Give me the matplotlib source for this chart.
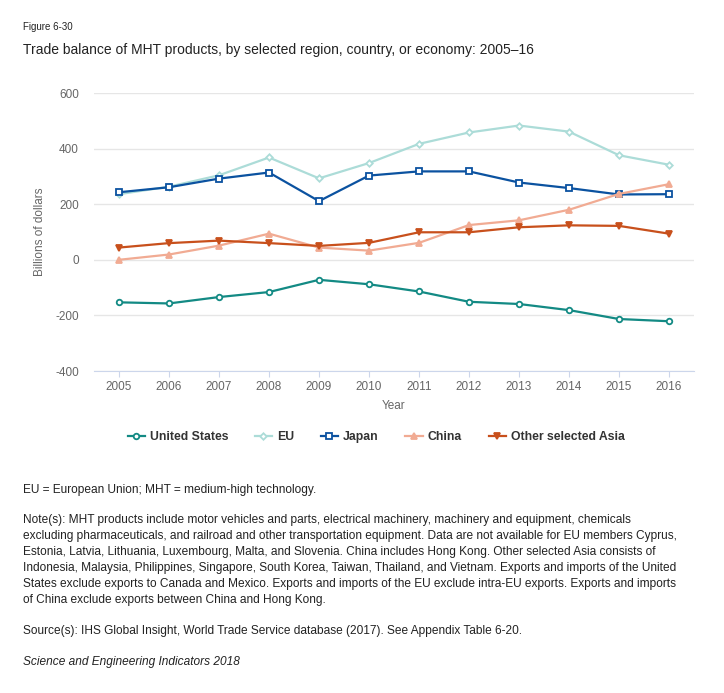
import matplotlib

matplotlib.use("Agg")
import matplotlib.pyplot as plt  # noqa: E402
from matplotlib.lines import Line2D  # noqa: E402

plt.rcParams["font.family"] = ["Liberation Sans", "DejaVu Sans"]

years = list(range(2005, 2017))
united_states = [-153, -157, -134, -116, -72, -88, -114, -151, -159, -181, -213, -221]
eu = [236, 263, 304, 368, 293, 348, 417, 458, 483, 461, 376, 342]
japan = [243, 261, 292, 314, 211, 303, 318, 318, 278, 258, 235, 236]
china = [0, 19, 51, 94, 44, 33, 61, 125, 142, 180, 237, 272]
other_asia = [44, 60, 69, 60, 50, 61, 99, 99, 117, 124, 122, 94]

series = [
    ("United States", united_states, "#138a84", "o", "white", 4.0),
    ("EU", eu, "#acdcd8", "D", "white", 3.3),
    ("Japan", japan, "#0b52a0", "s", "white", 4.2),
    ("China", china, "#f1ab93", "^", "#f1ab93", 4.6),
    ("Other selected Asia", other_asia, "#c8501c", "v", "#c8501c", 4.6),
]
y_ticks = [-400, -200, 0, 200, 400, 600]

W, H = 724, 693
fig = plt.figure(figsize=(W / 100, H / 100), dpi=100)


def px(x, y):
    return x / W, 1 - y / H


ax = fig.add_axes([94 / W, 1 - 371 / H, 600 / W, 278 / H])
for name, vals, color, marker, face, size in series:
    ax.plot(years, vals, color=color, linewidth=1.6, marker=marker, markersize=size,
            markerfacecolor=face, markeredgecolor=color, markeredgewidth=1.3, zorder=3)

ax.set_xlim(2004.5, 2016.5)
ax.set_ylim(-400, 600)
ax.set_yticks(y_ticks)
ax.set_yticklabels([str(v) for v in y_ticks])
ax.set_xticks(years)
ax.grid(axis="y", color="#e6e6e6", linewidth=1)
ax.set_axisbelow(True)
for side in ["top", "right", "left"]:
    ax.spines[side].set_visible(False)
ax.spines["bottom"].set_color("#ccd6eb")
ax.tick_params(axis="y", length=0, pad=10.8, labelsize=8.5, labelcolor="#666666")
ax.tick_params(axis="x", length=4.5, color="#ccd6eb", pad=3, labelsize=8.5, labelcolor="#666666")
ax.set_xlabel("Year", fontsize=8.5, color="#666666")
ax.xaxis.set_label_coords(300 / 600, -29 / 278)
ax.set_ylabel("Billions of dollars", fontsize=8.5, color="#666666")
ax.yaxis.set_label_coords(-48 / 600, 0.5)

handles = [Line2D([0], [0], color=c, linewidth=1.6, marker=m, markersize=s, markerfacecolor=f,
                  markeredgecolor=c, markeredgewidth=1.3) for _, _, c, m, f, s in series]
leg = fig.legend(handles, [s[0] for s in series], loc="center", bbox_to_anchor=px(376, 437),
                 ncol=5, frameon=False, handlelength=1.4, handletextpad=0.4, columnspacing=2.2,
                 prop={"size": 8.8, "weight": "bold"})
for t in leg.get_texts():
    t.set_color("#333333")

fig.text(*px(23, 27), "Figure 6-30", fontsize=7, color="#222222", va="center")
fig.text(*px(23, 50), "Trade balance of MHT products, by selected region, country, or economy: 2005\u201316",
         fontsize=10, color="#222222", va="center")

note_color = "#222222"
note_size = 8.6
fig.text(*px(23, 490), "EU = European Union; MHT = medium-high technology.",
         fontsize=note_size, color=note_color, va="center")
note_lines = [
    "Note(s): MHT products include motor vehicles and parts, electrical machinery, machinery and equipment, chemicals",
    "excluding pharmaceuticals, and railroad and other transportation equipment. Data are not available for EU members Cyprus,",
    "Estonia, Latvia, Lithuania, Luxembourg, Malta, and Slovenia. China includes Hong Kong. Other selected Asia consists of",
    "Indonesia, Malaysia, Philippines, Singapore, South Korea, Taiwan, Thailand, and Vietnam. Exports and imports of the United",
    "States exclude exports to Canada and Mexico. Exports and imports of the EU exclude intra-EU exports. Exports and imports",
    "of China exclude exports between China and Hong Kong.",
]
for i, line in enumerate(note_lines):
    fig.text(*px(23, 520 + 16 * i), line, fontsize=note_size, color=note_color, va="center")
fig.text(*px(23, 631), "Source(s): IHS Global Insight, World Trade Service database (2017). See Appendix Table 6-20.",
         fontsize=note_size, color=note_color, va="center")
fig.text(*px(23, 662), "Science and Engineering Indicators 2018", fontsize=note_size, color=note_color,
         va="center", style="italic")

fig.savefig("out.png", dpi=100)
plt.close(fig)
